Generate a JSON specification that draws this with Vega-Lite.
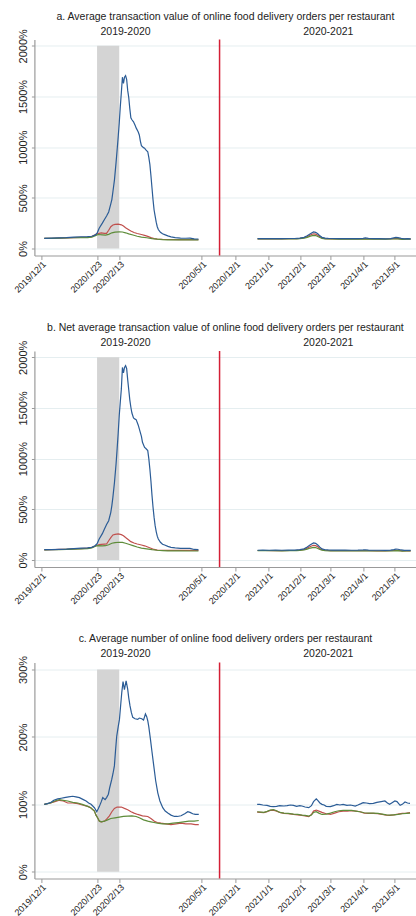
{
"$schema": "https://vega.github.io/schema/vega-lite/v6.json",
"padding": {"left": 12.4, "top": 11.5, "right": 0, "bottom": 0},
"bounds": "flush",
"spacing": 95.5,
"config": {
 "font": "Liberation Sans",
 "view": {"stroke": null},
 "axis": {"domainColor": "#9a9a9a", "tickColor": "#9a9a9a", "labelColor": "#222222", "gridColor": "#e5eef0", "domainWidth": 1.2},
 "title": {"fontSize": 10.5, "fontWeight": "normal", "color": "#222222", "offset": 4.5, "anchor": "middle"}
},
"datasets": {
"a": [
{"s":"r","g":"L","t":3,"v":100},{"s":"r","g":"L","t":10,"v":101},{"s":"r","g":"L","t":17,"v":103},{"s":"r","g":"L","t":24,"v":105},{"s":"r","g":"L","t":31,"v":108},{"s":"r","g":"L","t":38,"v":110},{"s":"r","g":"L","t":44,"v":113},{"s":"r","g":"L","t":48,"v":118},{"s":"r","g":"L","t":52,"v":140},{"s":"r","g":"L","t":55,"v":150},{"s":"r","g":"L","t":57,"v":155},{"s":"r","g":"L","t":60,"v":150},{"s":"r","g":"L","t":62,"v":150},{"s":"r","g":"L","t":64,"v":180},{"s":"r","g":"L","t":66,"v":215},{"s":"r","g":"L","t":68,"v":232},{"s":"r","g":"L","t":70,"v":238},{"s":"r","g":"L","t":73,"v":240},{"s":"r","g":"L","t":76,"v":234},{"s":"r","g":"L","t":78,"v":222},{"s":"r","g":"L","t":80,"v":205},{"s":"r","g":"L","t":83,"v":185},{"s":"r","g":"L","t":85,"v":172},{"s":"r","g":"L","t":88,"v":158},{"s":"r","g":"L","t":91,"v":148},{"s":"r","g":"L","t":95,"v":138},{"s":"r","g":"L","t":98,"v":130},{"s":"r","g":"L","t":101,"v":120},{"s":"r","g":"L","t":104,"v":108},{"s":"r","g":"L","t":107,"v":98},{"s":"r","g":"L","t":110,"v":93},{"s":"r","g":"L","t":115,"v":90},{"s":"r","g":"L","t":120,"v":89},{"s":"r","g":"L","t":130,"v":88},{"s":"r","g":"L","t":140,"v":88},{"s":"r","g":"L","t":149,"v":88},
{"s":"g","g":"L","t":3,"v":100},{"s":"g","g":"L","t":10,"v":100},{"s":"g","g":"L","t":17,"v":102},{"s":"g","g":"L","t":24,"v":104},{"s":"g","g":"L","t":31,"v":106},{"s":"g","g":"L","t":38,"v":107},{"s":"g","g":"L","t":44,"v":108},{"s":"g","g":"L","t":48,"v":112},{"s":"g","g":"L","t":52,"v":130},{"s":"g","g":"L","t":54,"v":138},{"s":"g","g":"L","t":58,"v":135},{"s":"g","g":"L","t":61,"v":132},{"s":"g","g":"L","t":64,"v":140},{"s":"g","g":"L","t":67,"v":155},{"s":"g","g":"L","t":70,"v":162},{"s":"g","g":"L","t":74,"v":165},{"s":"g","g":"L","t":77,"v":163},{"s":"g","g":"L","t":80,"v":155},{"s":"g","g":"L","t":83,"v":145},{"s":"g","g":"L","t":87,"v":133},{"s":"g","g":"L","t":91,"v":121},{"s":"g","g":"L","t":95,"v":113},{"s":"g","g":"L","t":100,"v":106},{"s":"g","g":"L","t":105,"v":98},{"s":"g","g":"L","t":110,"v":92},{"s":"g","g":"L","t":115,"v":88},{"s":"g","g":"L","t":120,"v":86},{"s":"g","g":"L","t":130,"v":85},{"s":"g","g":"L","t":140,"v":85},{"s":"g","g":"L","t":149,"v":85},
{"s":"b","g":"L","t":3,"v":100},{"s":"b","g":"L","t":10,"v":102},{"s":"b","g":"L","t":17,"v":104},{"s":"b","g":"L","t":24,"v":107},{"s":"b","g":"L","t":31,"v":112},{"s":"b","g":"L","t":38,"v":116},{"s":"b","g":"L","t":44,"v":118},{"s":"b","g":"L","t":48,"v":121},{"s":"b","g":"L","t":51,"v":132},{"s":"b","g":"L","t":53,"v":150},{"s":"b","g":"L","t":55,"v":200},{"s":"b","g":"L","t":58,"v":250},{"s":"b","g":"L","t":60,"v":286},{"s":"b","g":"L","t":62,"v":320},{"s":"b","g":"L","t":64,"v":360},{"s":"b","g":"L","t":66,"v":440},{"s":"b","g":"L","t":67,"v":483},{"s":"b","g":"L","t":68,"v":560},{"s":"b","g":"L","t":69.5,"v":680},{"s":"b","g":"L","t":71,"v":850},{"s":"b","g":"L","t":72,"v":975},{"s":"b","g":"L","t":73,"v":1100},{"s":"b","g":"L","t":74,"v":1238},{"s":"b","g":"L","t":75,"v":1400},{"s":"b","g":"L","t":76,"v":1540},{"s":"b","g":"L","t":77,"v":1690},{"s":"b","g":"L","t":78,"v":1630},{"s":"b","g":"L","t":79,"v":1690},{"s":"b","g":"L","t":80,"v":1705},{"s":"b","g":"L","t":81,"v":1670},{"s":"b","g":"L","t":82,"v":1560},{"s":"b","g":"L","t":83,"v":1490},{"s":"b","g":"L","t":84,"v":1380},{"s":"b","g":"L","t":85,"v":1290},{"s":"b","g":"L","t":86,"v":1270},{"s":"b","g":"L","t":87.5,"v":1250},{"s":"b","g":"L","t":89,"v":1215},{"s":"b","g":"L","t":90,"v":1190},{"s":"b","g":"L","t":92,"v":1150},{"s":"b","g":"L","t":93,"v":1120},{"s":"b","g":"L","t":94,"v":1060},{"s":"b","g":"L","t":95,"v":1015},{"s":"b","g":"L","t":97,"v":995},{"s":"b","g":"L","t":98,"v":990},{"s":"b","g":"L","t":99,"v":975},{"s":"b","g":"L","t":101,"v":955},{"s":"b","g":"L","t":102,"v":900},{"s":"b","g":"L","t":103,"v":830},{"s":"b","g":"L","t":104,"v":720},{"s":"b","g":"L","t":105,"v":600},{"s":"b","g":"L","t":106,"v":480},{"s":"b","g":"L","t":107,"v":380},{"s":"b","g":"L","t":108,"v":319},{"s":"b","g":"L","t":109,"v":260},{"s":"b","g":"L","t":110,"v":215},{"s":"b","g":"L","t":111,"v":187},{"s":"b","g":"L","t":113,"v":160},{"s":"b","g":"L","t":115,"v":145},{"s":"b","g":"L","t":117,"v":137},{"s":"b","g":"L","t":120,"v":125},{"s":"b","g":"L","t":123,"v":115},{"s":"b","g":"L","t":127,"v":108},{"s":"b","g":"L","t":132,"v":102},{"s":"b","g":"L","t":137,"v":101},{"s":"b","g":"L","t":141,"v":102},{"s":"b","g":"L","t":145,"v":96},{"s":"b","g":"L","t":149,"v":94},
{"s":"r","g":"R","t":205,"v":96},{"s":"r","g":"R","t":212,"v":96},{"s":"r","g":"R","t":220,"v":96},{"s":"r","g":"R","t":228,"v":96},{"s":"r","g":"R","t":236,"v":97},{"s":"r","g":"R","t":242,"v":98},{"s":"r","g":"R","t":245,"v":100},{"s":"r","g":"R","t":249,"v":106},{"s":"r","g":"R","t":252,"v":118},{"s":"r","g":"R","t":255,"v":133},{"s":"r","g":"R","t":258,"v":145},{"s":"r","g":"R","t":260,"v":142},{"s":"r","g":"R","t":262,"v":130},{"s":"r","g":"R","t":264,"v":115},{"s":"r","g":"R","t":266,"v":104},{"s":"r","g":"R","t":269,"v":98},{"s":"r","g":"R","t":274,"v":96},{"s":"r","g":"R","t":282,"v":95},{"s":"r","g":"R","t":290,"v":95},{"s":"r","g":"R","t":298,"v":95},{"s":"r","g":"R","t":305,"v":96},{"s":"r","g":"R","t":310,"v":95},{"s":"r","g":"R","t":318,"v":94},{"s":"r","g":"R","t":326,"v":94},{"s":"r","g":"R","t":334,"v":97},{"s":"r","g":"R","t":338,"v":98},{"s":"r","g":"R","t":342,"v":93},{"s":"r","g":"R","t":346,"v":95},{"s":"r","g":"R","t":350,"v":94},
{"s":"g","g":"R","t":205,"v":95},{"s":"g","g":"R","t":212,"v":95},{"s":"g","g":"R","t":220,"v":95},{"s":"g","g":"R","t":228,"v":94},{"s":"g","g":"R","t":236,"v":95},{"s":"g","g":"R","t":242,"v":96},{"s":"g","g":"R","t":245,"v":98},{"s":"g","g":"R","t":249,"v":102},{"s":"g","g":"R","t":252,"v":110},{"s":"g","g":"R","t":255,"v":122},{"s":"g","g":"R","t":258,"v":130},{"s":"g","g":"R","t":260,"v":128},{"s":"g","g":"R","t":262,"v":118},{"s":"g","g":"R","t":264,"v":108},{"s":"g","g":"R","t":266,"v":100},{"s":"g","g":"R","t":269,"v":96},{"s":"g","g":"R","t":274,"v":94},{"s":"g","g":"R","t":282,"v":93},{"s":"g","g":"R","t":290,"v":93},{"s":"g","g":"R","t":298,"v":93},{"s":"g","g":"R","t":305,"v":94},{"s":"g","g":"R","t":310,"v":93},{"s":"g","g":"R","t":318,"v":92},{"s":"g","g":"R","t":326,"v":92},{"s":"g","g":"R","t":334,"v":94},{"s":"g","g":"R","t":338,"v":95},{"s":"g","g":"R","t":342,"v":90},{"s":"g","g":"R","t":346,"v":92},{"s":"g","g":"R","t":350,"v":92},
{"s":"b","g":"R","t":205,"v":97},{"s":"b","g":"R","t":210,"v":98},{"s":"b","g":"R","t":216,"v":97},{"s":"b","g":"R","t":222,"v":98},{"s":"b","g":"R","t":228,"v":97},{"s":"b","g":"R","t":234,"v":99},{"s":"b","g":"R","t":240,"v":99},{"s":"b","g":"R","t":245,"v":103},{"s":"b","g":"R","t":249,"v":110},{"s":"b","g":"R","t":252,"v":125},{"s":"b","g":"R","t":255,"v":145},{"s":"b","g":"R","t":258,"v":163},{"s":"b","g":"R","t":260,"v":160},{"s":"b","g":"R","t":262,"v":145},{"s":"b","g":"R","t":264,"v":125},{"s":"b","g":"R","t":266,"v":110},{"s":"b","g":"R","t":269,"v":102},{"s":"b","g":"R","t":272,"v":100},{"s":"b","g":"R","t":276,"v":99},{"s":"b","g":"R","t":282,"v":98},{"s":"b","g":"R","t":288,"v":98},{"s":"b","g":"R","t":294,"v":97},{"s":"b","g":"R","t":300,"v":98},{"s":"b","g":"R","t":305,"v":100},{"s":"b","g":"R","t":307,"v":105},{"s":"b","g":"R","t":310,"v":100},{"s":"b","g":"R","t":315,"v":97},{"s":"b","g":"R","t":320,"v":97},{"s":"b","g":"R","t":326,"v":96},{"s":"b","g":"R","t":331,"v":98},{"s":"b","g":"R","t":334,"v":105},{"s":"b","g":"R","t":336,"v":110},{"s":"b","g":"R","t":338,"v":108},{"s":"b","g":"R","t":341,"v":100},{"s":"b","g":"R","t":344,"v":95},{"s":"b","g":"R","t":347,"v":97},{"s":"b","g":"R","t":350,"v":96}
],
"b": [
{"s":"r","g":"L","t":3,"v":100},{"s":"r","g":"L","t":10,"v":101},{"s":"r","g":"L","t":17,"v":104},{"s":"r","g":"L","t":24,"v":106},{"s":"r","g":"L","t":31,"v":110},{"s":"r","g":"L","t":38,"v":113},{"s":"r","g":"L","t":44,"v":117},{"s":"r","g":"L","t":48,"v":125},{"s":"r","g":"L","t":52,"v":141},{"s":"r","g":"L","t":55,"v":152},{"s":"r","g":"L","t":57,"v":155},{"s":"r","g":"L","t":60,"v":157},{"s":"r","g":"L","t":62,"v":158},{"s":"r","g":"L","t":64,"v":190},{"s":"r","g":"L","t":66,"v":220},{"s":"r","g":"L","t":68,"v":247},{"s":"r","g":"L","t":70,"v":252},{"s":"r","g":"L","t":73,"v":257},{"s":"r","g":"L","t":76,"v":250},{"s":"r","g":"L","t":78,"v":240},{"s":"r","g":"L","t":80,"v":222},{"s":"r","g":"L","t":83,"v":198},{"s":"r","g":"L","t":85,"v":181},{"s":"r","g":"L","t":88,"v":168},{"s":"r","g":"L","t":91,"v":158},{"s":"r","g":"L","t":95,"v":148},{"s":"r","g":"L","t":98,"v":140},{"s":"r","g":"L","t":101,"v":128},{"s":"r","g":"L","t":104,"v":116},{"s":"r","g":"L","t":107,"v":104},{"s":"r","g":"L","t":110,"v":98},{"s":"r","g":"L","t":115,"v":96},{"s":"r","g":"L","t":120,"v":95},{"s":"r","g":"L","t":130,"v":95},{"s":"r","g":"L","t":140,"v":95},{"s":"r","g":"L","t":149,"v":95},
{"s":"g","g":"L","t":3,"v":100},{"s":"g","g":"L","t":10,"v":101},{"s":"g","g":"L","t":17,"v":103},{"s":"g","g":"L","t":24,"v":105},{"s":"g","g":"L","t":31,"v":107},{"s":"g","g":"L","t":38,"v":109},{"s":"g","g":"L","t":44,"v":112},{"s":"g","g":"L","t":48,"v":120},{"s":"g","g":"L","t":52,"v":138},{"s":"g","g":"L","t":54,"v":141},{"s":"g","g":"L","t":58,"v":140},{"s":"g","g":"L","t":61,"v":141},{"s":"g","g":"L","t":64,"v":150},{"s":"g","g":"L","t":67,"v":165},{"s":"g","g":"L","t":70,"v":172},{"s":"g","g":"L","t":74,"v":175},{"s":"g","g":"L","t":77,"v":173},{"s":"g","g":"L","t":80,"v":165},{"s":"g","g":"L","t":83,"v":155},{"s":"g","g":"L","t":87,"v":142},{"s":"g","g":"L","t":91,"v":128},{"s":"g","g":"L","t":95,"v":118},{"s":"g","g":"L","t":100,"v":110},{"s":"g","g":"L","t":105,"v":102},{"s":"g","g":"L","t":110,"v":96},{"s":"g","g":"L","t":115,"v":93},{"s":"g","g":"L","t":120,"v":91},{"s":"g","g":"L","t":130,"v":90},{"s":"g","g":"L","t":140,"v":89},{"s":"g","g":"L","t":149,"v":89},
{"s":"b","g":"L","t":3,"v":102},{"s":"b","g":"L","t":10,"v":103},{"s":"b","g":"L","t":17,"v":105},{"s":"b","g":"L","t":24,"v":108},{"s":"b","g":"L","t":31,"v":113},{"s":"b","g":"L","t":38,"v":117},{"s":"b","g":"L","t":44,"v":120},{"s":"b","g":"L","t":48,"v":125},{"s":"b","g":"L","t":51,"v":141},{"s":"b","g":"L","t":53,"v":160},{"s":"b","g":"L","t":55,"v":207},{"s":"b","g":"L","t":58,"v":260},{"s":"b","g":"L","t":60,"v":306},{"s":"b","g":"L","t":62,"v":350},{"s":"b","g":"L","t":64,"v":388},{"s":"b","g":"L","t":66,"v":470},{"s":"b","g":"L","t":67,"v":536},{"s":"b","g":"L","t":68,"v":620},{"s":"b","g":"L","t":69.5,"v":767},{"s":"b","g":"L","t":71,"v":950},{"s":"b","g":"L","t":72,"v":1096},{"s":"b","g":"L","t":73,"v":1250},{"s":"b","g":"L","t":74,"v":1425},{"s":"b","g":"L","t":75,"v":1560},{"s":"b","g":"L","t":76,"v":1688},{"s":"b","g":"L","t":77,"v":1900},{"s":"b","g":"L","t":78,"v":1846},{"s":"b","g":"L","t":79,"v":1900},{"s":"b","g":"L","t":80,"v":1918},{"s":"b","g":"L","t":81,"v":1890},{"s":"b","g":"L","t":82,"v":1780},{"s":"b","g":"L","t":83,"v":1680},{"s":"b","g":"L","t":84,"v":1580},{"s":"b","g":"L","t":85,"v":1507},{"s":"b","g":"L","t":86,"v":1450},{"s":"b","g":"L","t":87.5,"v":1402},{"s":"b","g":"L","t":89,"v":1390},{"s":"b","g":"L","t":90,"v":1385},{"s":"b","g":"L","t":92,"v":1330},{"s":"b","g":"L","t":93,"v":1293},{"s":"b","g":"L","t":95,"v":1220},{"s":"b","g":"L","t":96,"v":1161},{"s":"b","g":"L","t":98,"v":1110},{"s":"b","g":"L","t":99,"v":1102},{"s":"b","g":"L","t":101,"v":1079},{"s":"b","g":"L","t":102,"v":1000},{"s":"b","g":"L","t":103,"v":898},{"s":"b","g":"L","t":104,"v":780},{"s":"b","g":"L","t":105,"v":640},{"s":"b","g":"L","t":106,"v":520},{"s":"b","g":"L","t":107,"v":420},{"s":"b","g":"L","t":108,"v":339},{"s":"b","g":"L","t":109,"v":280},{"s":"b","g":"L","t":110,"v":235},{"s":"b","g":"L","t":111,"v":207},{"s":"b","g":"L","t":113,"v":175},{"s":"b","g":"L","t":115,"v":155},{"s":"b","g":"L","t":117,"v":148},{"s":"b","g":"L","t":120,"v":135},{"s":"b","g":"L","t":123,"v":125},{"s":"b","g":"L","t":127,"v":120},{"s":"b","g":"L","t":132,"v":115},{"s":"b","g":"L","t":137,"v":115},{"s":"b","g":"L","t":141,"v":114},{"s":"b","g":"L","t":145,"v":104},{"s":"b","g":"L","t":149,"v":102},
{"s":"r","g":"R","t":205,"v":94},{"s":"r","g":"R","t":212,"v":94},{"s":"r","g":"R","t":220,"v":93},{"s":"r","g":"R","t":228,"v":93},{"s":"r","g":"R","t":236,"v":94},{"s":"r","g":"R","t":242,"v":95},{"s":"r","g":"R","t":245,"v":97},{"s":"r","g":"R","t":249,"v":104},{"s":"r","g":"R","t":252,"v":117},{"s":"r","g":"R","t":255,"v":133},{"s":"r","g":"R","t":258,"v":145},{"s":"r","g":"R","t":260,"v":142},{"s":"r","g":"R","t":262,"v":130},{"s":"r","g":"R","t":264,"v":114},{"s":"r","g":"R","t":266,"v":102},{"s":"r","g":"R","t":269,"v":96},{"s":"r","g":"R","t":274,"v":93},{"s":"r","g":"R","t":282,"v":92},{"s":"r","g":"R","t":290,"v":92},{"s":"r","g":"R","t":298,"v":92},{"s":"r","g":"R","t":305,"v":93},{"s":"r","g":"R","t":310,"v":92},{"s":"r","g":"R","t":318,"v":91},{"s":"r","g":"R","t":326,"v":91},{"s":"r","g":"R","t":334,"v":94},{"s":"r","g":"R","t":338,"v":95},{"s":"r","g":"R","t":342,"v":91},{"s":"r","g":"R","t":346,"v":92},{"s":"r","g":"R","t":350,"v":91},
{"s":"g","g":"R","t":205,"v":92},{"s":"g","g":"R","t":212,"v":92},{"s":"g","g":"R","t":220,"v":92},{"s":"g","g":"R","t":228,"v":91},{"s":"g","g":"R","t":236,"v":92},{"s":"g","g":"R","t":242,"v":93},{"s":"g","g":"R","t":245,"v":95},{"s":"g","g":"R","t":249,"v":100},{"s":"g","g":"R","t":252,"v":108},{"s":"g","g":"R","t":255,"v":118},{"s":"g","g":"R","t":258,"v":125},{"s":"g","g":"R","t":260,"v":123},{"s":"g","g":"R","t":262,"v":114},{"s":"g","g":"R","t":264,"v":105},{"s":"g","g":"R","t":266,"v":97},{"s":"g","g":"R","t":269,"v":93},{"s":"g","g":"R","t":274,"v":91},{"s":"g","g":"R","t":282,"v":90},{"s":"g","g":"R","t":290,"v":90},{"s":"g","g":"R","t":298,"v":90},{"s":"g","g":"R","t":305,"v":91},{"s":"g","g":"R","t":310,"v":90},{"s":"g","g":"R","t":318,"v":89},{"s":"g","g":"R","t":326,"v":89},{"s":"g","g":"R","t":334,"v":91},{"s":"g","g":"R","t":338,"v":92},{"s":"g","g":"R","t":342,"v":88},{"s":"g","g":"R","t":346,"v":90},{"s":"g","g":"R","t":350,"v":89},
{"s":"b","g":"R","t":205,"v":96},{"s":"b","g":"R","t":210,"v":97},{"s":"b","g":"R","t":216,"v":96},{"s":"b","g":"R","t":222,"v":97},{"s":"b","g":"R","t":228,"v":96},{"s":"b","g":"R","t":234,"v":98},{"s":"b","g":"R","t":240,"v":98},{"s":"b","g":"R","t":245,"v":102},{"s":"b","g":"R","t":249,"v":110},{"s":"b","g":"R","t":252,"v":128},{"s":"b","g":"R","t":255,"v":150},{"s":"b","g":"R","t":258,"v":168},{"s":"b","g":"R","t":260,"v":164},{"s":"b","g":"R","t":262,"v":148},{"s":"b","g":"R","t":264,"v":127},{"s":"b","g":"R","t":266,"v":110},{"s":"b","g":"R","t":269,"v":101},{"s":"b","g":"R","t":272,"v":99},{"s":"b","g":"R","t":276,"v":98},{"s":"b","g":"R","t":282,"v":97},{"s":"b","g":"R","t":288,"v":97},{"s":"b","g":"R","t":294,"v":96},{"s":"b","g":"R","t":300,"v":97},{"s":"b","g":"R","t":305,"v":99},{"s":"b","g":"R","t":307,"v":101},{"s":"b","g":"R","t":310,"v":98},{"s":"b","g":"R","t":315,"v":96},{"s":"b","g":"R","t":320,"v":96},{"s":"b","g":"R","t":326,"v":95},{"s":"b","g":"R","t":331,"v":97},{"s":"b","g":"R","t":334,"v":103},{"s":"b","g":"R","t":336,"v":108},{"s":"b","g":"R","t":338,"v":106},{"s":"b","g":"R","t":341,"v":99},{"s":"b","g":"R","t":344,"v":95},{"s":"b","g":"R","t":347,"v":96},{"s":"b","g":"R","t":350,"v":95}
],
"c": [
{"s":"r","g":"L","t":3,"v":100},{"s":"r","g":"L","t":9,"v":102},{"s":"r","g":"L","t":13,"v":104},{"s":"r","g":"L","t":17.3,"v":106},{"s":"r","g":"L","t":21,"v":105},{"s":"r","g":"L","t":25.2,"v":102},{"s":"r","g":"L","t":30,"v":102},{"s":"r","g":"L","t":34.7,"v":101},{"s":"r","g":"L","t":39,"v":99},{"s":"r","g":"L","t":44.2,"v":97},{"s":"r","g":"L","t":47,"v":95},{"s":"r","g":"L","t":50.5,"v":90},{"s":"r","g":"L","t":52,"v":84},{"s":"r","g":"L","t":53.5,"v":80},{"s":"r","g":"L","t":55.2,"v":75},{"s":"r","g":"L","t":57,"v":74},{"s":"r","g":"L","t":60,"v":75},{"s":"r","g":"L","t":62,"v":78},{"s":"r","g":"L","t":64.7,"v":83},{"s":"r","g":"L","t":67,"v":89},{"s":"r","g":"L","t":69.4,"v":94},{"s":"r","g":"L","t":72,"v":96},{"s":"r","g":"L","t":74.2,"v":96},{"s":"r","g":"L","t":76,"v":96},{"s":"r","g":"L","t":78.9,"v":94},{"s":"r","g":"L","t":82,"v":92},{"s":"r","g":"L","t":85.2,"v":89},{"s":"r","g":"L","t":88,"v":87},{"s":"r","g":"L","t":91.5,"v":85},{"s":"r","g":"L","t":96,"v":83},{"s":"r","g":"L","t":101,"v":82},{"s":"r","g":"L","t":104,"v":79},{"s":"r","g":"L","t":107.3,"v":75},{"s":"r","g":"L","t":110,"v":73},{"s":"r","g":"L","t":113.6,"v":72},{"s":"r","g":"L","t":118,"v":71},{"s":"r","g":"L","t":123,"v":70},{"s":"r","g":"L","t":128,"v":71},{"s":"r","g":"L","t":132.5,"v":72},{"s":"r","g":"L","t":137,"v":71},{"s":"r","g":"L","t":142,"v":71},{"s":"r","g":"L","t":146,"v":70},{"s":"r","g":"L","t":149.3,"v":70},
{"s":"g","g":"L","t":3,"v":100},{"s":"g","g":"L","t":9,"v":102},{"s":"g","g":"L","t":13,"v":105},{"s":"g","g":"L","t":17.3,"v":107},{"s":"g","g":"L","t":21,"v":106},{"s":"g","g":"L","t":25.2,"v":105},{"s":"g","g":"L","t":30,"v":103},{"s":"g","g":"L","t":34.7,"v":102},{"s":"g","g":"L","t":39,"v":100},{"s":"g","g":"L","t":44.2,"v":97},{"s":"g","g":"L","t":47,"v":95},{"s":"g","g":"L","t":50.5,"v":90},{"s":"g","g":"L","t":52,"v":84},{"s":"g","g":"L","t":53.5,"v":80},{"s":"g","g":"L","t":55.2,"v":75},{"s":"g","g":"L","t":57,"v":74},{"s":"g","g":"L","t":60,"v":75},{"s":"g","g":"L","t":63,"v":77},{"s":"g","g":"L","t":66,"v":79},{"s":"g","g":"L","t":70,"v":80},{"s":"g","g":"L","t":74,"v":81},{"s":"g","g":"L","t":78,"v":82},{"s":"g","g":"L","t":82,"v":82.5},{"s":"g","g":"L","t":86,"v":83},{"s":"g","g":"L","t":90,"v":82},{"s":"g","g":"L","t":93,"v":80},{"s":"g","g":"L","t":97,"v":77},{"s":"g","g":"L","t":101,"v":75},{"s":"g","g":"L","t":104,"v":74},{"s":"g","g":"L","t":107,"v":73},{"s":"g","g":"L","t":110,"v":72},{"s":"g","g":"L","t":115,"v":71},{"s":"g","g":"L","t":120,"v":71},{"s":"g","g":"L","t":125,"v":72},{"s":"g","g":"L","t":130,"v":73},{"s":"g","g":"L","t":135,"v":74},{"s":"g","g":"L","t":140,"v":75},{"s":"g","g":"L","t":145,"v":75},{"s":"g","g":"L","t":149.3,"v":76},
{"s":"b","g":"L","t":3,"v":100},{"s":"b","g":"L","t":6,"v":101},{"s":"b","g":"L","t":9.4,"v":103},{"s":"b","g":"L","t":12,"v":106},{"s":"b","g":"L","t":15.7,"v":108},{"s":"b","g":"L","t":19,"v":109},{"s":"b","g":"L","t":22,"v":110},{"s":"b","g":"L","t":26,"v":111},{"s":"b","g":"L","t":29.9,"v":112},{"s":"b","g":"L","t":33,"v":111},{"s":"b","g":"L","t":36.3,"v":110},{"s":"b","g":"L","t":40,"v":107},{"s":"b","g":"L","t":42.6,"v":105},{"s":"b","g":"L","t":45,"v":102},{"s":"b","g":"L","t":47.3,"v":100},{"s":"b","g":"L","t":50.5,"v":95},{"s":"b","g":"L","t":52.7,"v":89},{"s":"b","g":"L","t":54,"v":93},{"s":"b","g":"L","t":55.2,"v":97},{"s":"b","g":"L","t":57,"v":104},{"s":"b","g":"L","t":58.4,"v":110},{"s":"b","g":"L","t":60.6,"v":107},{"s":"b","g":"L","t":62,"v":110},{"s":"b","g":"L","t":63.7,"v":115},{"s":"b","g":"L","t":65,"v":125},{"s":"b","g":"L","t":66.9,"v":137},{"s":"b","g":"L","t":68,"v":145},{"s":"b","g":"L","t":69.4,"v":157},{"s":"b","g":"L","t":70.5,"v":180},{"s":"b","g":"L","t":71.6,"v":201},{"s":"b","g":"L","t":73,"v":215},{"s":"b","g":"L","t":74.2,"v":226},{"s":"b","g":"L","t":75.5,"v":250},{"s":"b","g":"L","t":76.4,"v":266},{"s":"b","g":"L","t":77.6,"v":282},{"s":"b","g":"L","t":78.9,"v":270},{"s":"b","g":"L","t":80.5,"v":283},{"s":"b","g":"L","t":82,"v":271},{"s":"b","g":"L","t":83,"v":258},{"s":"b","g":"L","t":84.2,"v":246},{"s":"b","g":"L","t":85.5,"v":236},{"s":"b","g":"L","t":86.8,"v":229},{"s":"b","g":"L","t":89,"v":227},{"s":"b","g":"L","t":91.5,"v":226},{"s":"b","g":"L","t":93,"v":228},{"s":"b","g":"L","t":95.3,"v":227},{"s":"b","g":"L","t":97,"v":225},{"s":"b","g":"L","t":98.8,"v":234},{"s":"b","g":"L","t":100,"v":230},{"s":"b","g":"L","t":101,"v":224},{"s":"b","g":"L","t":102,"v":215},{"s":"b","g":"L","t":103.5,"v":197},{"s":"b","g":"L","t":105,"v":178},{"s":"b","g":"L","t":106.7,"v":157},{"s":"b","g":"L","t":108.5,"v":135},{"s":"b","g":"L","t":110.5,"v":117},{"s":"b","g":"L","t":112.5,"v":105},{"s":"b","g":"L","t":115.2,"v":95},{"s":"b","g":"L","t":117.5,"v":90},{"s":"b","g":"L","t":120,"v":87},{"s":"b","g":"L","t":123,"v":84},{"s":"b","g":"L","t":126.3,"v":82},{"s":"b","g":"L","t":129,"v":82},{"s":"b","g":"L","t":132.5,"v":83},{"s":"b","g":"L","t":136,"v":86},{"s":"b","g":"L","t":138.9,"v":89},{"s":"b","g":"L","t":141,"v":88},{"s":"b","g":"L","t":143.6,"v":86},{"s":"b","g":"L","t":146,"v":85},{"s":"b","g":"L","t":149.3,"v":85},
{"s":"r","g":"R","t":204.6,"v":88.5},{"s":"r","g":"R","t":208,"v":88},{"s":"r","g":"R","t":211,"v":87.6},{"s":"r","g":"R","t":214,"v":89},{"s":"r","g":"R","t":217,"v":91},{"s":"r","g":"R","t":220,"v":91.5},{"s":"r","g":"R","t":223,"v":90},{"s":"r","g":"R","t":226,"v":88},{"s":"r","g":"R","t":230,"v":86.6},{"s":"r","g":"R","t":234,"v":86},{"s":"r","g":"R","t":239,"v":85},{"s":"r","g":"R","t":243,"v":84.5},{"s":"r","g":"R","t":247,"v":83.7},{"s":"r","g":"R","t":250,"v":83},{"s":"r","g":"R","t":253.5,"v":81.7},{"s":"r","g":"R","t":256,"v":85},{"s":"r","g":"R","t":258,"v":90},{"s":"r","g":"R","t":260.6,"v":91.5},{"s":"r","g":"R","t":263,"v":90},{"s":"r","g":"R","t":266,"v":88},{"s":"r","g":"R","t":270,"v":86},{"s":"r","g":"R","t":274,"v":85},{"s":"r","g":"R","t":278,"v":87},{"s":"r","g":"R","t":282,"v":89},{"s":"r","g":"R","t":286,"v":90},{"s":"r","g":"R","t":290,"v":90},{"s":"r","g":"R","t":294,"v":90.5},{"s":"r","g":"R","t":298,"v":90},{"s":"r","g":"R","t":302,"v":89},{"s":"r","g":"R","t":306,"v":87},{"s":"r","g":"R","t":310,"v":86.6},{"s":"r","g":"R","t":314.6,"v":86.6},{"s":"r","g":"R","t":319,"v":86},{"s":"r","g":"R","t":323,"v":85},{"s":"r","g":"R","t":327,"v":84},{"s":"r","g":"R","t":330,"v":83.7},{"s":"r","g":"R","t":334,"v":84.5},{"s":"r","g":"R","t":338,"v":85.5},{"s":"r","g":"R","t":342,"v":86.6},{"s":"r","g":"R","t":346,"v":87},{"s":"r","g":"R","t":349.4,"v":87.6},
{"s":"g","g":"R","t":204.6,"v":89},{"s":"g","g":"R","t":208,"v":88.5},{"s":"g","g":"R","t":211,"v":88},{"s":"g","g":"R","t":214,"v":89.5},{"s":"g","g":"R","t":217,"v":91.5},{"s":"g","g":"R","t":220,"v":92},{"s":"g","g":"R","t":223,"v":90.5},{"s":"g","g":"R","t":226,"v":88},{"s":"g","g":"R","t":230,"v":87},{"s":"g","g":"R","t":234,"v":86.5},{"s":"g","g":"R","t":239,"v":85.5},{"s":"g","g":"R","t":243,"v":85},{"s":"g","g":"R","t":247,"v":84},{"s":"g","g":"R","t":250,"v":83.5},{"s":"g","g":"R","t":253.5,"v":82.5},{"s":"g","g":"R","t":256,"v":84},{"s":"g","g":"R","t":258,"v":88},{"s":"g","g":"R","t":260.6,"v":89},{"s":"g","g":"R","t":263,"v":87},{"s":"g","g":"R","t":266,"v":85},{"s":"g","g":"R","t":270,"v":85.5},{"s":"g","g":"R","t":274,"v":87},{"s":"g","g":"R","t":278,"v":89},{"s":"g","g":"R","t":282,"v":90.5},{"s":"g","g":"R","t":286,"v":91},{"s":"g","g":"R","t":290,"v":91},{"s":"g","g":"R","t":294,"v":91},{"s":"g","g":"R","t":298,"v":90},{"s":"g","g":"R","t":302,"v":89},{"s":"g","g":"R","t":306,"v":87.5},{"s":"g","g":"R","t":310,"v":87},{"s":"g","g":"R","t":314.6,"v":87},{"s":"g","g":"R","t":319,"v":86.5},{"s":"g","g":"R","t":323,"v":85.5},{"s":"g","g":"R","t":327,"v":84.5},{"s":"g","g":"R","t":330,"v":84},{"s":"g","g":"R","t":334,"v":84.5},{"s":"g","g":"R","t":338,"v":85},{"s":"g","g":"R","t":342,"v":86},{"s":"g","g":"R","t":346,"v":86.5},{"s":"g","g":"R","t":349.4,"v":87},
{"s":"b","g":"R","t":204.6,"v":100},{"s":"b","g":"R","t":207,"v":100},{"s":"b","g":"R","t":210,"v":99},{"s":"b","g":"R","t":214,"v":98.5},{"s":"b","g":"R","t":217,"v":97},{"s":"b","g":"R","t":220,"v":96.5},{"s":"b","g":"R","t":223,"v":97},{"s":"b","g":"R","t":226,"v":98},{"s":"b","g":"R","t":230,"v":97.5},{"s":"b","g":"R","t":233,"v":98},{"s":"b","g":"R","t":236,"v":99},{"s":"b","g":"R","t":239,"v":98.5},{"s":"b","g":"R","t":242,"v":97},{"s":"b","g":"R","t":245,"v":98},{"s":"b","g":"R","t":247,"v":97.5},{"s":"b","g":"R","t":250,"v":96},{"s":"b","g":"R","t":253.5,"v":95},{"s":"b","g":"R","t":256,"v":98},{"s":"b","g":"R","t":258,"v":104},{"s":"b","g":"R","t":260.6,"v":108},{"s":"b","g":"R","t":262,"v":106},{"s":"b","g":"R","t":264,"v":102},{"s":"b","g":"R","t":266,"v":100},{"s":"b","g":"R","t":268,"v":99},{"s":"b","g":"R","t":270,"v":97},{"s":"b","g":"R","t":274,"v":96.5},{"s":"b","g":"R","t":277,"v":98},{"s":"b","g":"R","t":280,"v":100},{"s":"b","g":"R","t":283,"v":99},{"s":"b","g":"R","t":286,"v":100},{"s":"b","g":"R","t":289.6,"v":98.5},{"s":"b","g":"R","t":293,"v":99},{"s":"b","g":"R","t":297.5,"v":97.5},{"s":"b","g":"R","t":300,"v":99},{"s":"b","g":"R","t":303,"v":101},{"s":"b","g":"R","t":305,"v":102.5},{"s":"b","g":"R","t":308,"v":102},{"s":"b","g":"R","t":311,"v":101},{"s":"b","g":"R","t":314.6,"v":101.5},{"s":"b","g":"R","t":318,"v":103},{"s":"b","g":"R","t":322,"v":104},{"s":"b","g":"R","t":325.6,"v":105},{"s":"b","g":"R","t":328,"v":102},{"s":"b","g":"R","t":330,"v":100},{"s":"b","g":"R","t":332,"v":102},{"s":"b","g":"R","t":335,"v":105},{"s":"b","g":"R","t":337,"v":104},{"s":"b","g":"R","t":340,"v":98.5},{"s":"b","g":"R","t":342,"v":100},{"s":"b","g":"R","t":344.6,"v":103.5},{"s":"b","g":"R","t":347,"v":102},{"s":"b","g":"R","t":349.4,"v":101.5}
]
},
"vconcat": [
{
 "width": 382, "height": 216,
 "title": {"text": "a. Average transaction value of online food delivery orders per restaurant"},
 "layer": [
  {"data": {"values": [{"t1": 53, "t2": 74, "v1": 0, "v2": 2000}]},
   "mark": {"type": "rect", "color": "#d4d4d4"},
   "encoding": {
    "x": {"field": "t1", "type": "quantitative", "scale": {"domain": [-6.35, 355.4], "nice": false, "zero": false},
      "axis": {"values": [0,53,74,152,184,215,246,274,305,335], "labelExpr": "datum.value==0?'2019/12/1':datum.value==53?'2020/1/23':datum.value==74?'2020/2/13':datum.value==152?'2020/5/1':datum.value==184?'2020/12/1':datum.value==215?'2021/1/1':datum.value==246?'2021/2/1':datum.value==274?'2021/3/1':datum.value==305?'2021/4/1':'2021/5/1'", "labelAngle": -45, "labelFontSize": 9, "tickSize": 4, "labelPadding": 0, "grid": false, "title": null, "labelOverlap": false, "labelBound": false, "labelFlush": false}},
    "x2": {"field": "t2"},
    "y": {"field": "v1", "type": "quantitative", "scale": {"domain": [-69, 2062], "nice": false, "zero": false},
      "axis": {"values": [0,500,1000,1500,2000], "labelExpr": "datum.value + '%'", "labelAngle": -90, "labelAlign": "center", "labelBaseline": "bottom", "labelFontSize": 11, "tickSize": 3, "labelPadding": 3, "grid": true, "title": null}},
    "y2": {"field": "v2"}
   }},
  {"data": {"name": "a"},
   "mark": {"type": "line", "strokeWidth": 1.2},
   "encoding": {
    "x": {"field": "t", "type": "quantitative"},
    "y": {"field": "v", "type": "quantitative"},
    "color": {"field": "s", "type": "nominal", "scale": {"domain": ["r","g","b"], "range": ["#c0504d","#5e8c3a","#2b5c96"]}, "legend": null},
    "detail": {"field": "g"}
   }},
  {"data": {"values": [{"t": 169}]},
   "mark": {"type": "rule", "color": "#d41f35", "strokeWidth": 1.5},
   "encoding": {"x": {"field": "t", "type": "quantitative"}}},
  {"data": {"values": [{"t": 80, "label": "2019-2020"}, {"t": 272, "label": "2020-2021"}]},
   "mark": {"type": "text", "baseline": "bottom", "dy": -3, "fontSize": 10.5, "color": "#222222"},
   "encoding": {"x": {"field": "t", "type": "quantitative"}, "y": {"value": 0}, "text": {"field": "label"}}}
 ]
},
{
 "width": 382, "height": 216,
 "title": {"text": "b. Net average transaction value of online food delivery orders per restaurant"},
 "layer": [
  {"data": {"values": [{"t1": 53, "t2": 74, "v1": 0, "v2": 2000}]},
   "mark": {"type": "rect", "color": "#d4d4d4"},
   "encoding": {
    "x": {"field": "t1", "type": "quantitative", "scale": {"domain": [-6.35, 355.4], "nice": false, "zero": false},
      "axis": {"values": [0,53,74,152,184,215,246,274,305,335], "labelExpr": "datum.value==0?'2019/12/1':datum.value==53?'2020/1/23':datum.value==74?'2020/2/13':datum.value==152?'2020/5/1':datum.value==184?'2020/12/1':datum.value==215?'2021/1/1':datum.value==246?'2021/2/1':datum.value==274?'2021/3/1':datum.value==305?'2021/4/1':'2021/5/1'", "labelAngle": -45, "labelFontSize": 9, "tickSize": 4, "labelPadding": 0, "grid": false, "title": null, "labelOverlap": false, "labelBound": false, "labelFlush": false}},
    "x2": {"field": "t2"},
    "y": {"field": "v1", "type": "quantitative", "scale": {"domain": [-69, 2062], "nice": false, "zero": false},
      "axis": {"values": [0,500,1000,1500,2000], "labelExpr": "datum.value + '%'", "labelAngle": -90, "labelAlign": "center", "labelBaseline": "bottom", "labelFontSize": 11, "tickSize": 3, "labelPadding": 3, "grid": true, "title": null}},
    "y2": {"field": "v2"}
   }},
  {"data": {"name": "b"},
   "mark": {"type": "line", "strokeWidth": 1.2},
   "encoding": {
    "x": {"field": "t", "type": "quantitative"},
    "y": {"field": "v", "type": "quantitative"},
    "color": {"field": "s", "type": "nominal", "scale": {"domain": ["r","g","b"], "range": ["#c0504d","#5e8c3a","#2b5c96"]}, "legend": null},
    "detail": {"field": "g"}
   }},
  {"data": {"values": [{"t": 169}]},
   "mark": {"type": "rule", "color": "#d41f35", "strokeWidth": 1.5},
   "encoding": {"x": {"field": "t", "type": "quantitative"}}},
  {"data": {"values": [{"t": 80, "label": "2019-2020"}, {"t": 272, "label": "2020-2021"}]},
   "mark": {"type": "text", "baseline": "bottom", "dy": -3, "fontSize": 10.5, "color": "#222222"},
   "encoding": {"x": {"field": "t", "type": "quantitative"}, "y": {"value": 0}, "text": {"field": "label"}}}
 ]
},
{
 "width": 382, "height": 216,
 "title": {"text": "c. Average number of online food delivery orders per restaurant"},
 "layer": [
  {"data": {"values": [{"t1": 53, "t2": 74, "v1": 0, "v2": 300}]},
   "mark": {"type": "rect", "color": "#d4d4d4"},
   "encoding": {
    "x": {"field": "t1", "type": "quantitative", "scale": {"domain": [-6.35, 355.4], "nice": false, "zero": false},
      "axis": {"values": [0,53,74,152,184,215,246,274,305,335], "labelExpr": "datum.value==0?'2019/12/1':datum.value==53?'2020/1/23':datum.value==74?'2020/2/13':datum.value==152?'2020/5/1':datum.value==184?'2020/12/1':datum.value==215?'2021/1/1':datum.value==246?'2021/2/1':datum.value==274?'2021/3/1':datum.value==305?'2021/4/1':'2021/5/1'", "labelAngle": -45, "labelFontSize": 9, "tickSize": 4, "labelPadding": 0, "grid": false, "title": null, "labelOverlap": false, "labelBound": false, "labelFlush": false}},
    "x2": {"field": "t2"},
    "y": {"field": "v1", "type": "quantitative", "scale": {"domain": [-10, 310.4], "nice": false, "zero": false},
      "axis": {"values": [0,100,200,300], "labelExpr": "datum.value + '%'", "labelAngle": -90, "labelAlign": "center", "labelBaseline": "bottom", "labelFontSize": 11, "tickSize": 3, "labelPadding": 3, "grid": true, "title": null}},
    "y2": {"field": "v2"}
   }},
  {"data": {"name": "c"},
   "mark": {"type": "line", "strokeWidth": 1.2},
   "encoding": {
    "x": {"field": "t", "type": "quantitative"},
    "y": {"field": "v", "type": "quantitative"},
    "color": {"field": "s", "type": "nominal", "scale": {"domain": ["r","g","b"], "range": ["#c0504d","#5e8c3a","#2b5c96"]}, "legend": null},
    "detail": {"field": "g"}
   }},
  {"data": {"values": [{"t": 169}]},
   "mark": {"type": "rule", "color": "#d41f35", "strokeWidth": 1.5},
   "encoding": {"x": {"field": "t", "type": "quantitative"}}},
  {"data": {"values": [{"t": 80, "label": "2019-2020"}, {"t": 272, "label": "2020-2021"}]},
   "mark": {"type": "text", "baseline": "bottom", "dy": -3, "fontSize": 10.5, "color": "#222222"},
   "encoding": {"x": {"field": "t", "type": "quantitative"}, "y": {"value": 0}, "text": {"field": "label"}}}
 ]
}
]
}
